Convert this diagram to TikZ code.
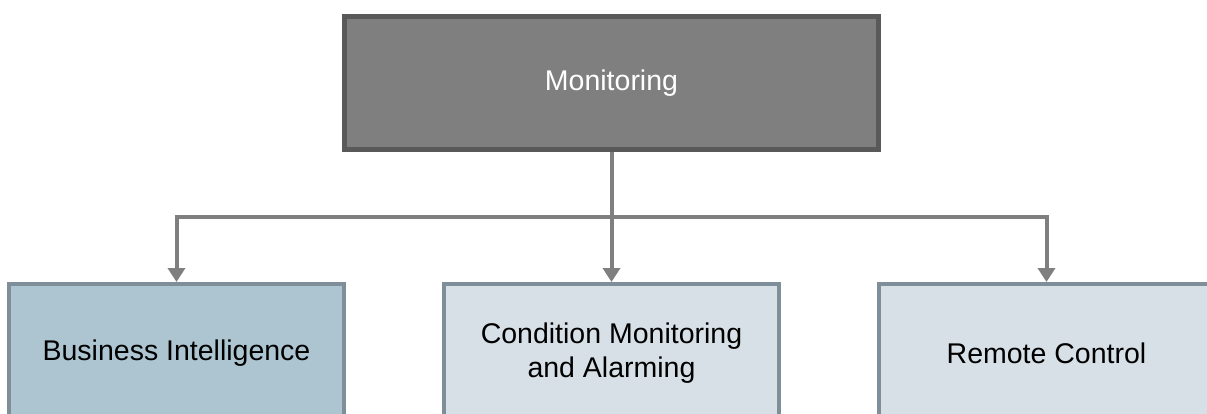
\documentclass[tikz,border=0pt]{standalone}
\usepackage{fontspec}
\setmainfont{Liberation Sans}
\usetikzlibrary{arrows.meta}
\definecolor{topfill}{HTML}{7F7F7F}
\definecolor{topline}{HTML}{595959}
\definecolor{boxline}{HTML}{7F8F99}
\definecolor{bifill}{HTML}{ADC5D1}
\definecolor{subfill}{HTML}{D6E0E6}
\definecolor{connline}{HTML}{7F7F7F}
\tikzset{
  rootbox/.style={draw=topline, fill=topfill, line width=5bp,
    minimum width=534bp, minimum height=133bp, inner sep=0pt,
    text=white, font=\fontsize{28.5bp}{34bp}\selectfont},
  childbox/.style={draw=boxline, line width=4bp,
    minimum width=335bp, minimum height=138bp, inner sep=0pt,
    align=center, text=black, font=\fontsize{28.5bp}{34bp}\selectfont},
  conn/.style={draw=connline, line width=4bp, line join=miter,
    -{Triangle[width=17bp,length=14bp]}}
}
\begin{document}
\begin{tikzpicture}[x=1bp,y=-1bp]
  \useasboundingbox (0,0) rectangle (1207,413);
  \clip (0,0) rectangle (1207,413);
  % root of the tree
  \node[rootbox] (top) at (611.5,83) {Monitoring};
  % the three branches (their lower parts run off the page)
  \node[childbox, fill=bifill] (left) at (176.5,353) {Business Intelligence};
  \node[childbox, fill=subfill] (mid) at (611.5,353) {Condition Monitoring\\and Alarming};
  \node[childbox, fill=subfill] (right) at (1046.5,353) {Remote Control};
  % connectors
  \coordinate (split) at (611.5,217);
  \draw[conn] (top.south) -- (mid.north);
  \draw[conn] (split) -| (left.north);
  \draw[conn] (split) -| (right.north);
\end{tikzpicture}
\end{document}
